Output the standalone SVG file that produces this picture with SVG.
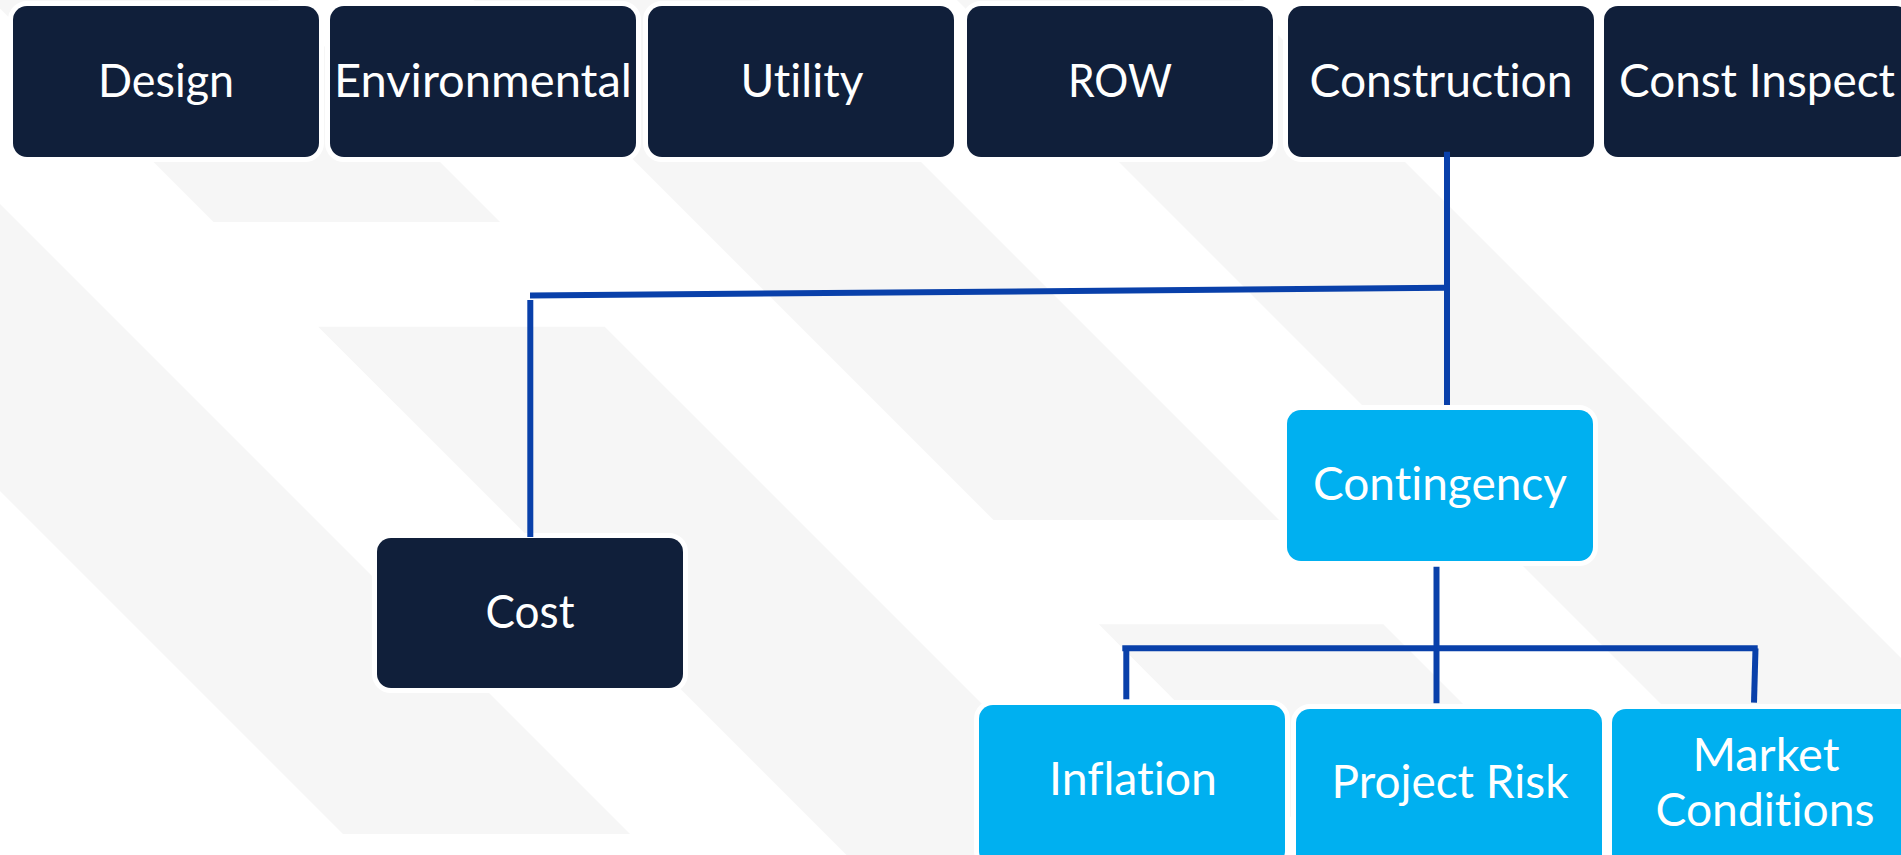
<svg xmlns="http://www.w3.org/2000/svg" width="1901" height="855" viewBox="0 0 1901 855">
  <style>
    .stripe { fill: #F6F6F6; }
    .box { stroke: #FFFFFF; stroke-width: 10; paint-order: stroke; }
    .dark { fill: #101F3A; }
    .light { fill: #00B0F0; }
    .label { font-family: Lato, "Open Sans", "Liberation Sans", sans-serif; font-size: 46px; fill: #FFFFFF; text-anchor: middle; font-variant-ligatures: none; font-feature-settings: "liga" 0, "clig" 0; }
    .link { stroke: #0940AA; stroke-width: 6; fill: none; stroke-linecap: butt; }
  </style>

  <rect x="0" y="0" width="1901" height="855" fill="#FFFFFF"/>

  <!-- diagonal background stripes -->
  <g id="background">
    <polygon class="stripe" points="0,204 630,834 343,834 0,491"/>
    <polygon class="stripe" points="-8.5,0 278,0 500,222 213.5,222"/>
    <polygon class="stripe" points="318.2,326.7 604.7,326.7 1133,855 846.5,855"/>
    <polygon class="stripe" points="473.5,0 759,0 1279,520 993.5,520"/>
    <polygon class="stripe" points="1098.8,624.3 1383.3,624.3 1614,855 1328.5,855"/>
    <polygon class="stripe" points="957,0 1243,0 2098,855 1812,855"/>
  </g>

  <!-- top row -->
  <g id="node-design">
    <rect class="box dark" x="13" y="6" width="306" height="151" rx="14"/>
    <text class="label" x="166" y="96.7" textLength="136" lengthAdjust="spacingAndGlyphs">Design</text>
  </g>
  <g id="node-environmental">
    <rect class="box dark" x="330" y="6" width="306" height="151" rx="14"/>
    <text class="label" x="483" y="96.7" textLength="298" lengthAdjust="spacingAndGlyphs">Environmental</text>
  </g>
  <g id="node-utility">
    <rect class="box dark" x="648" y="6" width="306" height="151" rx="14"/>
    <text class="label" x="802" y="96.7" textLength="123" lengthAdjust="spacingAndGlyphs">Utility</text>
  </g>
  <g id="node-row">
    <rect class="box dark" x="967" y="6" width="306" height="151" rx="14"/>
    <text class="label" x="1120" y="96.7" textLength="104" lengthAdjust="spacingAndGlyphs">ROW</text>
  </g>
  <g id="node-construction">
    <rect class="box dark" x="1288" y="6" width="306" height="151" rx="14"/>
    <text class="label" x="1441" y="96.7" textLength="263" lengthAdjust="spacingAndGlyphs">Construction</text>
  </g>
  <g id="node-const-inspect">
    <rect class="box dark" x="1604" y="6" width="306" height="151" rx="14"/>
    <text class="label" x="1757" y="96.7" textLength="276" lengthAdjust="spacingAndGlyphs">Const Inspect</text>
  </g>

  <!-- second level -->
  <g id="node-cost">
    <rect class="box dark" x="377" y="538" width="306" height="150" rx="14"/>
    <text class="label" x="530" y="627.6" textLength="89" lengthAdjust="spacingAndGlyphs">Cost</text>
  </g>
  <g id="node-contingency">
    <rect class="box light" x="1287" y="410" width="306" height="151" rx="14"/>
    <text class="label" x="1440" y="500" textLength="254" lengthAdjust="spacingAndGlyphs">Contingency</text>
  </g>

  <!-- contingency breakdown -->
  <g id="node-inflation">
    <rect class="box light" x="979" y="705" width="306" height="160" rx="14"/>
    <text class="label" x="1133" y="795" textLength="168" lengthAdjust="spacingAndGlyphs">Inflation</text>
  </g>
  <g id="node-project-risk">
    <rect class="box light" x="1296" y="709" width="306" height="160" rx="14"/>
    <text class="label" x="1450" y="798" textLength="237" lengthAdjust="spacingAndGlyphs">Project Risk</text>
  </g>
  <g id="node-market-conditions">
    <rect class="box light" x="1612" y="709" width="306" height="160" rx="14"/>
    <text class="label" x="1766" y="771" textLength="147" lengthAdjust="spacingAndGlyphs">Market</text>
    <text class="label" x="1765" y="825.7" textLength="219" lengthAdjust="spacingAndGlyphs">Conditions</text>
  </g>

  <!-- connectors -->
  <g id="connectors">
    <path class="link" d="M1447,151.7 V405"/>
    <path class="link" d="M530,295.5 L1444,287.8"/>
    <path class="link" d="M530.3,300 V537"/>
    <path class="link" d="M1436.5,566.7 V703.3"/>
    <path class="link" d="M1122.3,648.3 H1757.7"/>
    <path class="link" d="M1126.3,648.3 V699.3"/>
    <path class="link" d="M1755.5,648.3 L1754,702.7"/>
  </g>
</svg>
